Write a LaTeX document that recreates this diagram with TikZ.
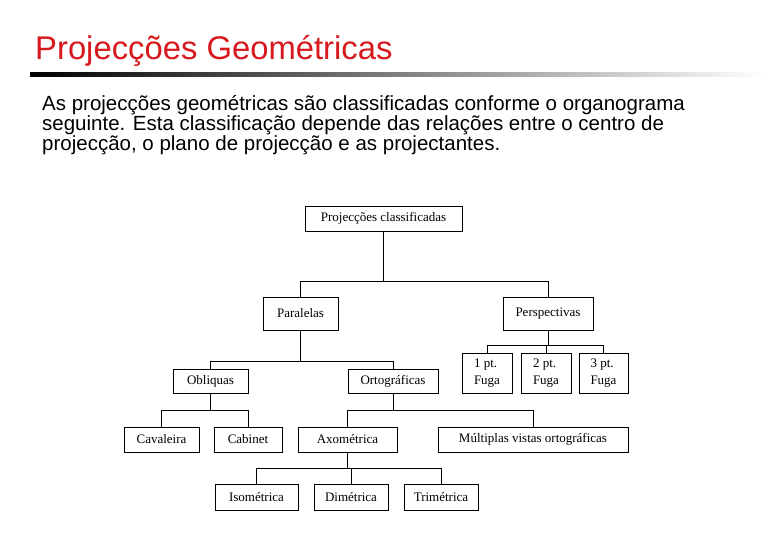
\documentclass[tikz,border=0pt]{standalone}
\usepackage{fontspec}
\setmainfont{Liberation Serif}
\newfontfamily\slidefont{Liberation Sans}
\definecolor{titlered}{RGB}{215,25,30}

\begin{document}
\begin{tikzpicture}[x=1pt,y=-1pt,
    caixa/.style={draw, line width=0.7pt, inner sep=0pt, font=\fontsize{13}{17}\selectfont},
    liga/.style={line width=0.7pt}]
    \useasboundingbox (0,0) rectangle (780,540);

    % titulo e texto
    \node[anchor=base west, inner sep=0pt, text=titlered, font=\slidefont\fontsize{32.8}{34}\selectfont]
        (titulo) at (35,60) {Projecções Geométricas};
    \shade[left color=black, right color=white] (30,73) rectangle (765,77);
    \node[anchor=north west, inner sep=0pt, align=left, font=\slidefont\fontsize{20.5}{18.5}\selectfont]
        (texto) at (42,95) {As projecções geométricas são classificadas conforme o organograma\\
        seguinte. Esta classificação depende das relações entre o centro de\\
        projecção, o plano de projecção e as projectantes.};

    % organograma
    \node[caixa, minimum width=157, minimum height=25] (raiz) at (383.5,218.5) {Projecções classificadas};
    \node[caixa, minimum width=75, minimum height=33] (paral) at (300.5,313.5) {Paralelas};
    \node[caixa, minimum width=90, minimum height=33] (persp) at (548,313.5) {Perspectivas};
    \node[caixa, minimum width=75, minimum height=24] (obliq) at (210.5,381) {Obliquas};
    \node[caixa, minimum width=90, minimum height=24] (ortog) at (393,381) {Ortográficas};
    \node[caixa, minimum width=50, minimum height=40, align=left] (pf1) at (487,373) {1 pt.\\Fuga};
    \node[caixa, minimum width=50, minimum height=40, align=left] (pf2) at (546,373) {2 pt.\\Fuga};
    \node[caixa, minimum width=49, minimum height=40, align=left] (pf3) at (603.5,373) {3 pt.\\Fuga};
    \node[caixa, minimum width=75, minimum height=25] (caval) at (161.5,439.5) {Cavaleira};
    \node[caixa, minimum width=68, minimum height=25] (cabin) at (248,439.5) {Cabinet};
    \node[caixa, minimum width=99, minimum height=25] (axono) at (347.5,439.5) {Axométrica};
    \node[caixa, minimum width=190, minimum height=25] (multi) at (533,439.5) {Múltiplas vistas ortográficas};
    \node[caixa, minimum width=83, minimum height=26] (isome) at (256.5,497) {Isométrica};
    \node[caixa, minimum width=74, minimum height=26] (dimet) at (351,497) {Dimétrica};
    \node[caixa, minimum width=74, minimum height=26] (trime) at (441,497) {Trimétrica};

    % ligacoes
    \draw[liga] (raiz.south) -- (raiz.south |- 0,281);
    \draw[liga] (paral.north) |- (persp.north |- 0,281) -- (persp.north);
    \draw[liga] (paral.south) -- (paral.south |- 0,361);
    \draw[liga] (obliq.north) |- (ortog.north |- 0,361) -- (ortog.north);
    \draw[liga] (persp.south) -- (persp.south |- 0,345);
    \draw[liga] (pf1.north) |- (pf3.north |- 0,345) -- (pf3.north);
    \draw[liga] (pf2.north) -- (pf2.north |- 0,345);
    \draw[liga] (obliq.south) -- (obliq.south |- 0,410);
    \draw[liga] (caval.north) |- (cabin.north |- 0,410) -- (cabin.north);
    \draw[liga] (ortog.south) -- (ortog.south |- 0,410);
    \draw[liga] (axono.north) |- (multi.north |- 0,410) -- (multi.north);
    \draw[liga] (axono.south) -- (axono.south |- 0,468);
    \draw[liga] (isome.north) |- (trime.north |- 0,468) -- (trime.north);
    \draw[liga] (dimet.north) -- (dimet.north |- 0,468);
\end{tikzpicture}
\end{document}
